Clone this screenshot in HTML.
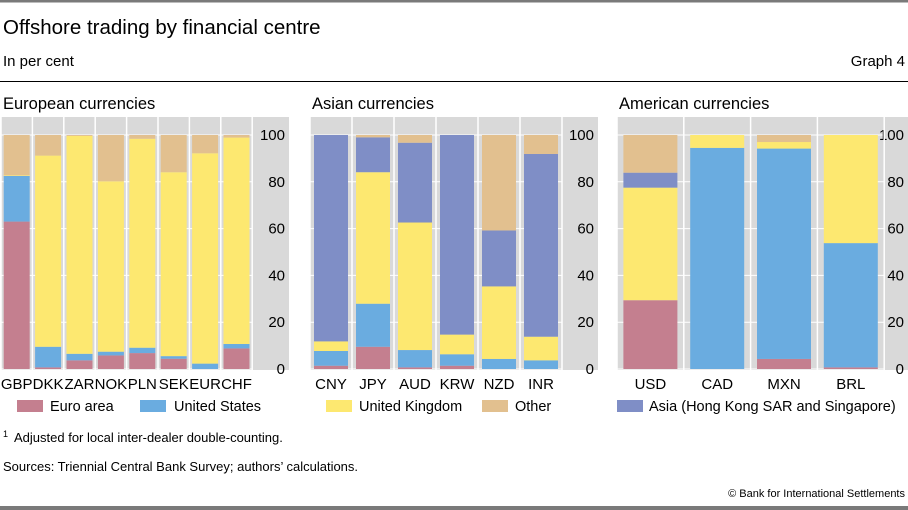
<!DOCTYPE html>
<html><head><meta charset="utf-8"><style>
body{margin:0;background:#fff;}
svg{display:block;font-family:"Liberation Sans",Arial,sans-serif;}
</style></head><body>
<svg id="c" width="908" height="510" viewBox="0 0 908 510" xmlns="http://www.w3.org/2000/svg">
<rect x="0" y="0" width="908" height="2.5" fill="#7a7a7a"/>
<text x="3" y="34" font-size="20.5" fill="#000">Offshore trading by financial centre</text>
<text x="3" y="66" font-size="15" fill="#000">In per cent</text>
<text x="905" y="66" font-size="15" fill="#000" text-anchor="end">Graph 4</text>
<rect x="0" y="81" width="908" height="1" fill="#000"/>
<g id="panels"></g>
<g>
<rect x="17" y="400" width="26" height="12" fill="#c47f8f"/>
<text x="50" y="411" font-size="14.5">Euro area</text>
<rect x="140" y="400" width="26" height="12" fill="#6aace0"/>
<text x="174" y="411" font-size="14.5">United States</text>
<rect x="326" y="400" width="26" height="12" fill="#fde870"/>
<text x="359" y="411" font-size="14.5">United Kingdom</text>
<rect x="482" y="400" width="26" height="12" fill="#e2c08f"/>
<text x="515" y="411" font-size="14.5">Other</text>
<rect x="617" y="400" width="26" height="12" fill="#7f8ec6"/>
<text x="649" y="411" font-size="14.5">Asia (Hong Kong SAR and Singapore)</text>
</g>
<text x="3" y="437" font-size="9">1</text>
<text x="14" y="442" font-size="13">Adjusted for local inter-dealer double-counting.</text>
<text x="3" y="471" font-size="13">Sources: Triennial Central Bank Survey; authors’ calculations.</text>
<text x="905" y="497" font-size="11" text-anchor="end">© Bank for International Settlements</text>
<rect x="0" y="506" width="908" height="4" fill="#7a7a7a"/>
</svg>
<script>
const euroCats=["GBP","DKK","ZAR","NOK","PLN","SEK","EUR","CHF"];
const euroEuro=[63,0.7,3.7,5.8,6.8,4.4,0,8.8];
const euroUS=[19.5,8.8,2.8,1.6,2.3,1.1,2.3,1.9];
const euroUK=[0.3,81.7,93.1,72.8,89.3,78.6,89.9,88.2];
const euroAsia=[0,0,0,0,0,0,0,0];
const euroOther=[17.2,8.8,0.4,19.8,1.6,15.9,7.8,1.1];

const asiaCats=["CNY","JPY","AUD","KRW","NZD","INR"];
const asiaEuro=[1.4,9.5,0.7,1.4,0,0];
const asiaUS=[6.3,18.4,7.4,4.9,4.3,3.7];
const asiaUK=[4.1,56.2,54.5,8.4,31,10.1];
const asiaAsia=[88.2,14.9,34.1,85.3,23.9,78.1];
const asiaOther=[0,1,3.3,0,40.8,8.1];

const amCats=["USD","CAD","MXN","BRL"];
const amEuro=[29.4,0,4.3,0.7];
const amUS=[0,94.5,89.9,53.1];
const amUK=[48.1,5.5,2.8,46.2];
const amAsia=[6.4,0,0,0];
const amOther=[16.1,0,3,0];

const yTicks=[0,20,40,60,80,100];
const colors=["#c47f8f","#6aace0","#fde870","#7f8ec6","#e2c08f"];
const seriesNames=["euro-area","united-states","united-kingdom","asia","other"];
const NS="http://www.w3.org/2000/svg";
const root=document.getElementById("panels");
const Y0=369,Y100=135;
function yScale(v){return Y0-(Y0-Y100)*v/100;}
function mk(tag,attrs,parent){const e=document.createElementNS(NS,tag);for(const k in attrs)e.setAttribute(k,attrs[k]);parent.appendChild(e);return e;}

function panel(key,title,x0,colW,barW,axisEnd,cats,series){
  const g=mk("g",{},root);
  
  
  const n=cats.length, plotEnd=x0+n*colW;
  const bg=mk("rect",{x:x0,y:117,width:axisEnd-x0,height:253,fill:"#d9d9d9"},g);
  
  
  for(const t of yTicks){
    const gl=mk("line",{x1:x0,x2:plotEnd,y1:yScale(t),y2:yScale(t),stroke:"#fff","stroke-width":1},g);
    
    
    const tl=mk("text",{x:axisEnd-4,y:yScale(t)+5,"font-size":15,"text-anchor":"end"},g);
    tl.textContent=t;
    
    
  }
  for(let i=0;i<=n;i++){
    const vl=mk("line",{x1:x0+i*colW,x2:x0+i*colW,y1:117,y2:370,stroke:"#fff","stroke-width":1.5},g);
    
    
  }
  const tt=mk("text",{x:x0+2,y:109,"font-size":16.5},g);
  tt.textContent=title;
  
  
  cats.forEach((c,i)=>{
    const cx=x0+i*colW+colW/2;
    let cum=0;
    series.forEach((s,si)=>{
      const v=s[i];
      if(v>0){
        const r=mk("rect",{x:cx-barW/2,y:yScale(cum+v),width:barW,height:yScale(cum)-yScale(cum+v),fill:colors[si]},g);
        
        
      }
      cum+=v;
    });
    const lab=mk("text",{x:cx,y:389,"font-size":15,"text-anchor":"middle"},g);
    lab.textContent=c;
    
    
  });
}
panel("european","European currencies",1,31.4,26,289,euroCats,[euroEuro,euroUS,euroUK,euroAsia,euroOther]);
panel("asian","Asian currencies",310,42,34,598,asiaCats,[asiaEuro,asiaUS,asiaUK,asiaAsia,asiaOther]);
panel("american","American currencies",617,66.8,54,908,amCats,[amEuro,amUS,amUK,amAsia,amOther]);
</script>
</body></html>
